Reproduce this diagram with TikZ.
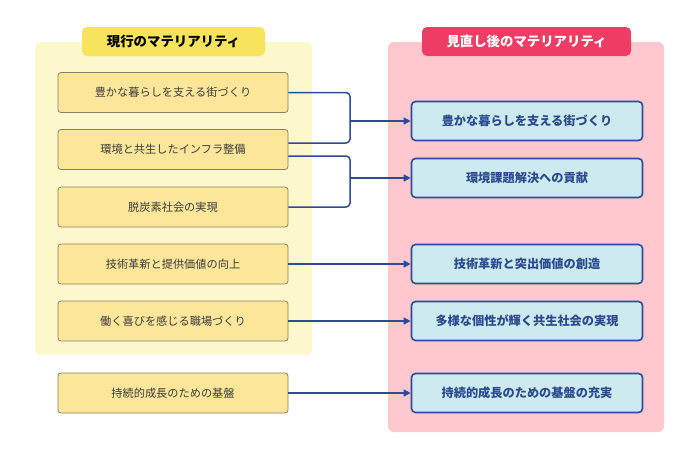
\documentclass[tikz,border=0pt]{standalone}
\usepackage{fontspec}
\newfontfamily\jp{Noto Sans CJK JP}
\usetikzlibrary{arrows.meta,calc}
\definecolor{ypanel}{HTML}{FDF7CC}
\definecolor{ytab}{HTML}{F8E45C}
\definecolor{lbox}{HTML}{FBE69A}
\definecolor{lborder}{HTML}{8C8060}
\definecolor{ppanel}{HTML}{FEC8CE}
\definecolor{ptab}{HTML}{EE3D64}
\definecolor{rbox}{HTML}{CDEBEF}
\definecolor{navy}{HTML}{2E4B9B}
\definecolor{rtext}{HTML}{2B4A8F}
\definecolor{ltext}{HTML}{3C3C3C}
\tikzset{
  panel/.style={draw=none,rounded corners=6pt},
  tabbox/.style={rounded corners=5pt,draw=none,minimum height=29pt,inner sep=0pt,font=\jp\fontsize{13.4pt}{15pt}\selectfont\bfseries},
  leftbox/.style={draw=lborder,fill=lbox,line width=0.8pt,rounded corners=3pt,minimum width=230pt,minimum height=40pt,inner sep=0pt,text=ltext,font=\jp\fontsize{11.2pt}{13pt}\selectfont},
  rightbox/.style={draw=navy,fill=rbox,line width=1.6pt,rounded corners=4pt,minimum width=231pt,minimum height=39pt,inner sep=0pt,text=rtext,font=\jp\fontsize{12.2pt}{14pt}\selectfont\bfseries},
  conn/.style={draw=navy,line width=1.5pt,rounded corners=4pt},
  arr/.style={draw=navy,line width=1.5pt,-{Triangle[length=7pt,width=7pt]}}
}
\begin{document}
\begin{tikzpicture}[x=1pt,y=-1pt]
\useasboundingbox (0,0) rectangle (700,455);
\fill[white] (0,0) rectangle (700,455);
% panels
\fill[ypanel,panel] (35,42) rectangle (312,355);
\fill[ppanel,panel] (388,42) rectangle (664,432);
\node[tabbox,fill=ytab,text=black,minimum width=183pt] (ttl) at (173.5,41.5) {現行のマテリアリティ};
\node[tabbox,fill=ptab,text=white,minimum width=209pt] (ttr) at (526.5,41.5) {見直し後のマテリアリティ};
% left boxes
\node[leftbox] (l1) at (173,92.5) {豊かな暮らしを支える街づくり};
\node[leftbox] (l2) at (173,149.5) {環境と共生したインフラ整備};
\node[leftbox] (l3) at (173,207) {脱炭素社会の実現};
\node[leftbox] (l4) at (173,264) {技術革新と提供価値の向上};
\node[leftbox] (l5) at (173,321) {働く喜びを感じる職場づくり};
\node[leftbox] (l6) at (173,393) {持続的成長のための基盤};
% right boxes
\node[rightbox] (r1) at (527,121) {豊かな暮らしを支える街づくり};
\node[rightbox] (r2) at (527,178) {環境課題解決への貢献};
\node[rightbox] (r3) at (527,264) {技術革新と突出価値の創造};
\node[rightbox] (r4) at (527,321) {多様な個性が輝く共生社会の実現};
\node[rightbox] (r5) at (527,393) {持続的成長のための基盤の充実};
% brackets
\coordinate (a1) at ($(l2.east)+(0,-6.5)$);
\coordinate (a2) at ($(l2.east)+(0,6.5)$);
\coordinate (bx) at (350,0);
\draw[conn] (l1.east) -- (l1.east -| bx) -- (a1 -| bx) -- (a1);
\draw[conn] (a2) -- (a2 -| bx) -- (l3.east -| bx) -- (l3.east);
\coordinate (m1) at (r1.west -| bx);
\coordinate (m2) at (r2.west -| bx);
\draw[arr] (m1) -- (r1.west);
\draw[arr] (m2) -- (r2.west);
\draw[arr] (l4.east) -- (r3.west);
\draw[arr] (l5.east) -- (r4.west);
\draw[arr] (l6.east) -- (r5.west);
\end{tikzpicture}
\end{document}
